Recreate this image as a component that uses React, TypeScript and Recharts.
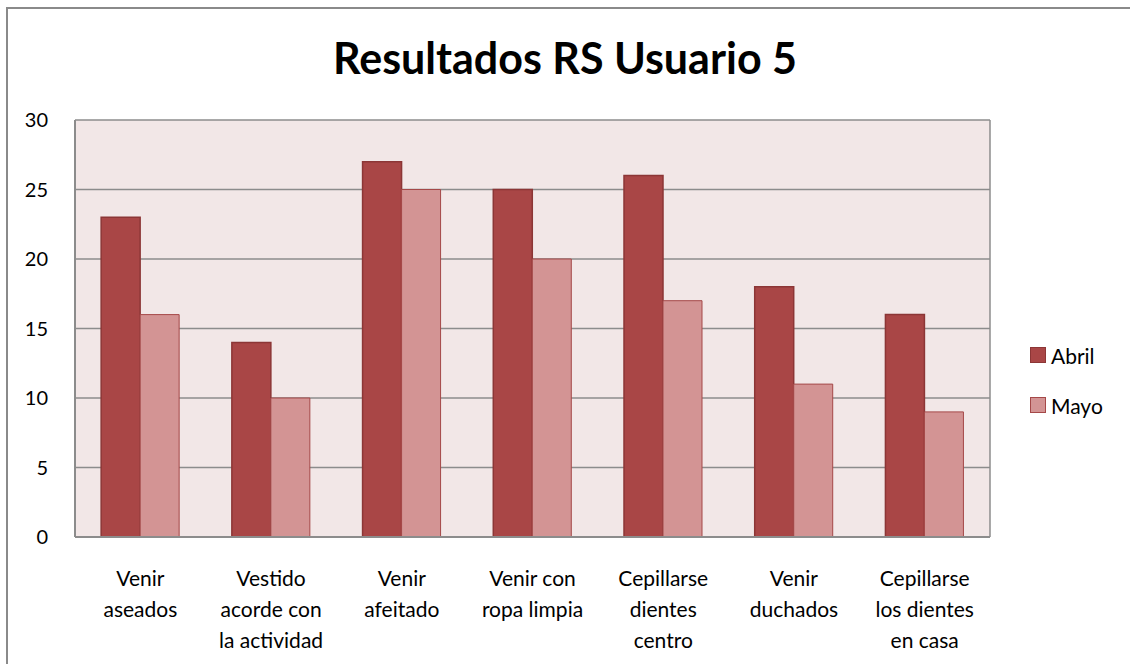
import { BarChart, Bar, XAxis, YAxis, CartesianGrid } from 'recharts'

const categories = [
  'Venir|aseados',
  'Vestido|acorde con|la actividad',
  'Venir|afeitado',
  'Venir con|ropa limpia',
  'Cepillarse|dientes|centro',
  'Venir|duchados',
  'Cepillarse|los dientes|en casa',
]
const abril = [23, 14, 27, 25, 26, 18, 16]
const mayo = [16, 10, 25, 20, 17, 11, 9]
const yTicks = [0, 5, 10, 15, 20, 25, 30]

const FONT = 'Lato, "Open Sans", sans-serif'
const COLORS = { abril: '#A94646', abrilLine: '#8C3636', mayo: '#D39494', mayoLine: '#A54848' }

const data = categories.map((c, i) => ({ name: c, Abril: abril[i], Mayo: mayo[i] }))

function CategoryTick(props: any) {
  const { x, y, payload } = props
  const lines = String(payload.value).split('|')
  return (
    <g transform={`translate(${x},${y})`}>
      {lines.map((l, i) => (
        <text key={i} x={0} y={41 + i * 31} textAnchor="middle" fill="#000" fontSize={21} fontFamily={FONT}>
          {l}
        </text>
      ))}
    </g>
  )
}

function LegendBox() {
  const items = [
    { label: 'Abril', fill: COLORS.abril, stroke: COLORS.abrilLine },
    { label: 'Mayo', fill: COLORS.mayo, stroke: COLORS.mayoLine },
  ]
  return (
    <div style={{ fontFamily: FONT, fontSize: 21, color: '#000' }}>
      {items.map(it => (
        <div key={it.label} style={{ display: 'flex', alignItems: 'center', height: 50 }}>
          <span style={{ width: 14, height: 14, background: it.fill, border: `1px solid ${it.stroke}`, marginRight: 5 }} />
          {it.label}
        </div>
      ))}
    </div>
  )
}

export default function App() {
  return (
    <div style={{ position: 'absolute', left: 0, top: 0, width: 1130, height: 664, overflow: 'hidden', background: '#fff' }}>
      <div style={{ position: 'absolute', left: 6, top: 7, width: 1200, height: 800, borderLeft: '2px solid #8a8a8a', borderTop: '2px solid #8a8a8a' }} />
      <div style={{ position: 'absolute', left: 0, width: 1130, top: 32, textAlign: 'center', fontFamily: FONT, fontWeight: 'bold', fontSize: 43, color: '#000' }}>
        Resultados RS Usuario 5
      </div>
      <div style={{ position: 'absolute', left: 0, top: 0 }}>
        <BarChart width={1130} height={664} data={data} margin={{ top: 120, right: 139, bottom: 0, left: 0 }} barCategoryGap="20%" barGap={0}>
          <CartesianGrid vertical={false} stroke="#8c8c8c" strokeWidth={1.5} fill="#F2E7E7" />
          <XAxis
            dataKey="name"
            height={127}
            interval={0}
            tick={<CategoryTick />}
            tickLine={false}
            axisLine={{ stroke: '#8c8c8c', strokeWidth: 2 }}
          />
          <YAxis
            domain={[0, 30]}
            ticks={yTicks}
            width={75}
            tickSize={0}
            tickMargin={27}
            tickLine={false}
            axisLine={{ stroke: '#8c8c8c', strokeWidth: 2 }}
            tick={{ fontSize: 20, fill: '#000', fontFamily: FONT }}
          />
          <YAxis
            yAxisId="r"
            orientation="right"
            domain={[0, 30]}
            width={1}
            tick={false}
            tickLine={false}
            axisLine={{ stroke: '#8c8c8c', strokeWidth: 1.5 }}
          />
          <Bar dataKey="Abril" fill={COLORS.abril} stroke={COLORS.abrilLine} strokeWidth={1.5} isAnimationActive={false} />
          <Bar dataKey="Mayo" fill={COLORS.mayo} stroke={COLORS.mayoLine} strokeWidth={1} isAnimationActive={false} />
        </BarChart>
      </div>
      <div style={{ position: 'absolute', left: 1030, top: 330 }}>
        <LegendBox />
      </div>
    </div>
  )
}
